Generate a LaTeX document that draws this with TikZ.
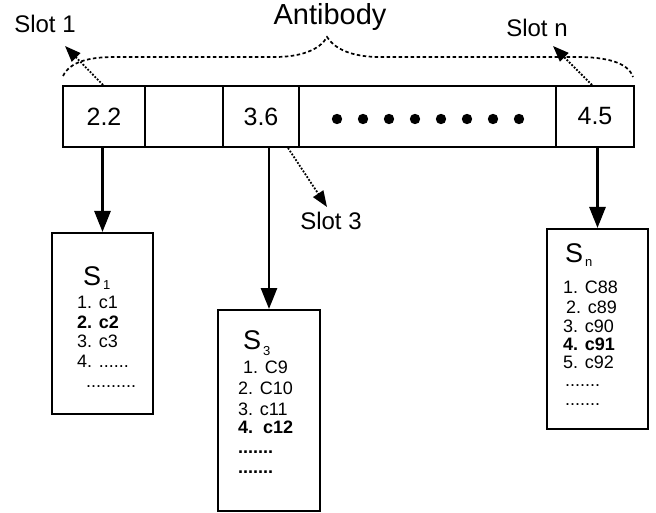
\documentclass[tikz,border=0pt]{standalone}
\usepackage{fontspec}
\setmainfont{Liberation Sans}
\usetikzlibrary{arrows.meta}

\begin{document}
\begin{tikzpicture}[x=1pt,y=-1pt,
  cell/.style={draw, line width=2pt, minimum height=61pt, inner sep=0pt,
    font=\fontsize{25}{25}\selectfont},
  listbox/.style={draw, line width=2pt, inner sep=0pt},
  label/.style={inner sep=0pt, font=\fontsize{24}{24}\selectfont},
  title/.style={anchor=base west, inner sep=0pt, font=\fontsize{27}{27}\selectfont},
  item/.style={anchor=base west, inner sep=0pt, font=\fontsize{18}{18}\selectfont},
  bolditem/.style={item, font=\fontsize{18}{18}\selectfont\bfseries},
  down/.style={line width=2.8pt, -{Triangle[length=21pt,width=16pt]}},
  slotarrow/.style={line width=1.8pt, dash pattern=on 1.8pt off 1.6pt,
    -{Triangle[length=16pt,width=12pt]}},
  brace/.style={line width=1.7pt, dash pattern=on 3.5pt off 2.5pt},
  dot/.style={fill=black}
]
\useasboundingbox (0,0) rectangle (656,513);

% the antibody: a row of slots
\node[cell, minimum width=82pt]  (c1) at (104,116.5) {2.2};
\node[cell, minimum width=78pt]  (c2) at (184,116.5) {};
\node[cell, minimum width=76pt]  (c3) at (261,116.5) {3.6};
\node[cell, minimum width=257pt] (c4) at (427.5,116.5) {};
\node[cell, minimum width=78pt]  (c5) at (595,116.5) {4.5};
\foreach \x in {337,363,389,415,441,467,493,519}
  \fill[dot] (\x,119) circle (5.2pt);

% brace over the whole row
\draw[brace] (63,76) .. controls (70,62) and (88,57) .. (115,57) -- (275,57)
  .. controls (300,57) and (320,50) .. (327,37)
  .. controls (334,48) and (350,57) .. (380,57) -- (577,57)
  .. controls (605,57) and (628,62) .. (633,77);
\node[label, font=\fontsize{29}{29}\selectfont] (antibody) at (330,17) {Antibody};

% slot labels
\node[label] (slot1) at (45,24) {Slot 1};
\node[label] (slotn) at (537,28) {Slot n};
\node[label] (slot3) at (331,221) {Slot 3};
\coordinate (slot1tip) at (65,46);
\coordinate (slotntip) at (553,46);
\coordinate (slot3tip) at (327,207);
\draw[slotarrow] ([xshift=-1pt]c1.north) -- (slot1tip);
\draw[slotarrow] ([xshift=-3pt]c5.north) -- (slotntip);
\draw[slotarrow] ([xshift=-12pt]c3.south east) -- (slot3tip);

% candidate lists
\node[listbox, minimum width=101pt, minimum height=181pt] (s1) at (102.5,323.5) {};
\node[listbox, minimum width=102pt, minimum height=201pt] (s3) at (269,410.5) {};
\node[listbox, minimum width=101pt, minimum height=200pt] (sn) at (597.5,329) {};

\draw[down] (s1.north |- c1.south) -- (s1.north);
\draw[down] (s3.north |- c3.south) -- (s3.north);
\draw[down] (sn.north |- c5.south) -- (sn.north);

% list S1
\node[title] (s1t) at (83,285) {S\hspace{2pt}\raisebox{-4pt}{\fontsize{13}{13}\selectfont 1}};
\node[item] (s1a) at (77,308) {1. c1};
\node[bolditem] (s1b) at (77,328) {2. c2};
\node[item] (s1c) at (77,347) {3. c3};
\node[item] (s1d) at (77,367) {4. ......};
\node[item] (s1e) at (86,387) {..........};

% list S3
\node[title] (s3t) at (243,349) {S\hspace{2pt}\raisebox{-6pt}{\fontsize{13}{13}\selectfont 3}};
\node[item] (s3a) at (243,373) {1. C9};
\node[item] (s3b) at (238,394) {2. C10};
\node[item] (s3c) at (238,415) {3. c11};
\node[bolditem] (s3d) at (238,433) {4.\ \ c12};
\node[bolditem] (s3e) at (238,453) {.......};
\node[bolditem] (s3f) at (238,473) {.......};

% list Sn
\node[title] (snt) at (565,262) {S\hspace{2pt}\raisebox{-4pt}{\fontsize{13}{13}\selectfont n}};
\node[item] (sna) at (563,293) {1. C88};
\node[item] (snb) at (566,313) {2. c89};
\node[item] (snc) at (563,332) {3. c90};
\node[bolditem] (snd) at (563,350) {4. c91};
\node[item] (sne) at (563,368) {5. c92};
\node[item] (snf) at (565,386) {.......};
\node[item] (sng) at (565,405) {.......};
\end{tikzpicture}
\end{document}
